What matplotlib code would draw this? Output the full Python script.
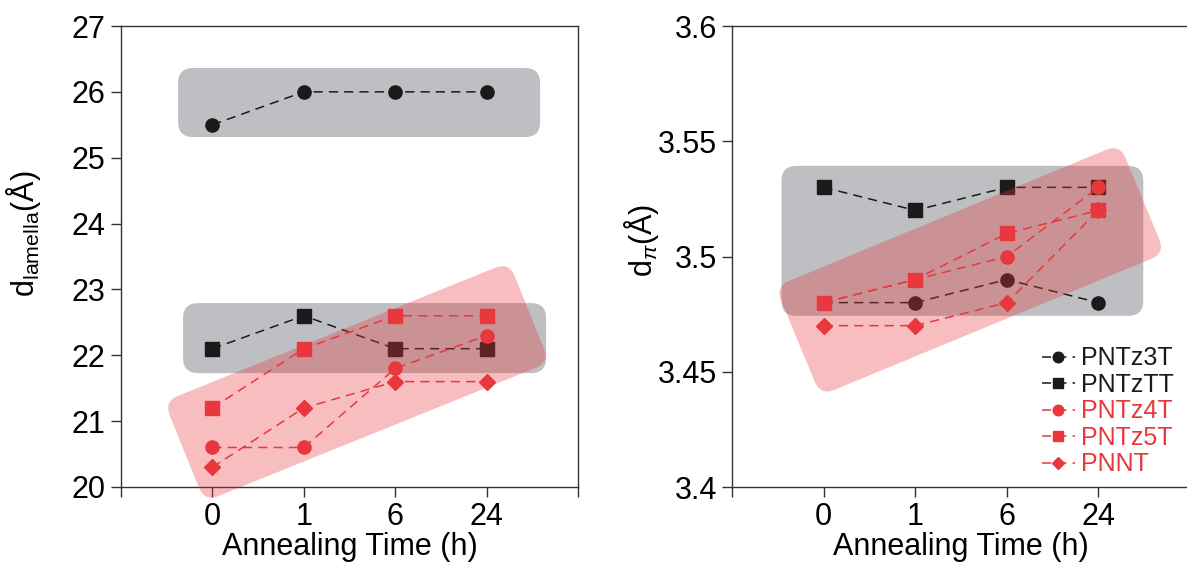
import matplotlib
matplotlib.use('Agg')
import matplotlib.pyplot as plt
from matplotlib.patches import FancyBboxPatch
from matplotlib.transforms import Affine2D
from matplotlib.ticker import FormatStrFormatter

# data
times = ['0', '1', '6', '24']
names = ['PNTz3T', 'PNTzTT', 'PNTz4T', 'PNTz5T', 'PNNT']
markers = ['o', 's', 'o', 's', 'D']
colors = ['#1a1a1a', '#1a1a1a', '#e8383d', '#e8383d', '#e8383d']

lam_pntz3t = [25.5, 26.0, 26.0, 26.0]
lam_pntztt = [22.1, 22.6, 22.1, 22.1]
lam_pntz4t = [20.6, 20.6, 21.8, 22.3]
lam_pntz5t = [21.2, 22.1, 22.6, 22.6]
lam_pnnt = [20.3, 21.2, 21.6, 21.6]

pi_pntz3t = [3.48, 3.48, 3.49, 3.48]
pi_pntztt = [3.53, 3.52, 3.53, 3.53]
pi_pntz4t = [3.48, 3.49, 3.50, 3.53]
pi_pntz5t = [3.48, 3.49, 3.51, 3.52]
pi_pnnt = [3.47, 3.47, 3.48, 3.52]

plt.rcParams['font.family'] = ['Liberation Sans', 'DejaVu Sans']
plt.rcParams['mathtext.fontset'] = 'custom'
plt.rcParams['mathtext.rm'] = 'Liberation Sans'
plt.rcParams['mathtext.it'] = 'Liberation Sans:italic'

W, H = 1187, 566
fig = plt.figure(figsize=(W / 100, H / 100), dpi=100)

# axes in pixels: left, top, width, height
ax1 = fig.add_axes([121 / W, 1 - 487 / H, 457 / W, 461 / H])
ax2 = fig.add_axes([732 / W, 1 - 487 / H, 458 / W, 461 / H])


def rbox(ax, cx, cy, w, h, angle, color, alpha, z):
    # cx, cy in axes fraction; w, h in pixels
    axw, axh = 457, 461
    p = FancyBboxPatch((-w / 2, -h / 2), w, h,
                       boxstyle='round,pad=0,rounding_size=15',
                       facecolor=color, edgecolor='none', alpha=alpha,
                       zorder=z, clip_on=False)
    t = Affine2D().rotate_deg(angle).scale(1 / axw, 1 / axh).translate(cx, cy)
    p.set_transform(t + ax.transAxes)
    ax.add_patch(p)


def style(ax):
    x = list(range(len(times)))
    ax.set_xlim(-1, 4)
    ax.set_xticks([-1, 0, 1, 2, 3, 4])
    ax.set_xticklabels([''] + times + [''])
    ax.tick_params(axis='both', direction='out', length=7, width=1,
                   labelsize=22, color='#333333', pad=4)
    for s in ax.spines.values():
        s.set_linewidth(1)
        s.set_color('#333333')
    ax.set_xlabel('Annealing Time (h)', fontsize=22, labelpad=0)
    return x


x = style(ax1)
lam = [lam_pntz3t, lam_pntztt, lam_pntz4t, lam_pntz5t, lam_pnnt]
for vals, m, c, n in zip(lam, markers, colors, names):
    ax1.plot(x, vals, marker=m, color=c, ls='--', dashes=(6, 4), lw=1.1,
             ms=8 if m == 'D' else 9.5, label=n, zorder=2)
ax1.set_ylim(20, 27)
ax1.set_yticks(range(20, 28))
ax1.set_ylabel(r'd$_{\mathrm{lamella}}$(Å)', fontsize=22)
ax1.yaxis.set_label_coords(-0.17, 0.55)

rbox(ax1, 0.521, 0.834, 362, 69, 0, '#bdbfc2', 1, 0)
rbox(ax1, 0.533, 0.323, 363, 70, 0, '#bdbfc2', 1, 0)
rbox(ax1, 0.516, 0.228, 372, 108, 22, '#e8383d', 0.33, 3)

x = style(ax2)
pi = [pi_pntz3t, pi_pntztt, pi_pntz4t, pi_pntz5t, pi_pnnt]
for vals, m, c, n in zip(pi, markers, colors, names):
    ax2.plot(x, vals, marker=m, color=c, ls='--', dashes=(6, 4), lw=1.1,
             ms=8 if m == 'D' else 9.5, label=n, zorder=2)
ax2.set_ylim(3.4, 3.6)
ax2.set_yticks([3.4, 3.45, 3.5, 3.55, 3.6])
ax2.yaxis.set_major_formatter(FormatStrFormatter('%g'))
ax2.set_ylabel(r'd$_{\pi}$(Å)', fontsize=22)
ax2.yaxis.set_label_coords(-0.155, 0.535)

rbox(ax2, 0.503, 0.534, 361, 150, 0, '#bdbfc2', 1, 0)
rbox(ax2, 0.520, 0.471, 372, 118, 22.5, '#e8383d', 0.33, 3)

leg = ax2.legend(loc='upper left', bbox_to_anchor=(0.677, 0.305), frameon=False,
                 fontsize=18, handlelength=1.3, handletextpad=0.25,
                 labelspacing=0.1, borderpad=0, borderaxespad=0, markerscale=0.8)
for txt, c in zip(leg.get_texts(), colors):
    txt.set_color(c)

fig.savefig('out.png', dpi=100)
